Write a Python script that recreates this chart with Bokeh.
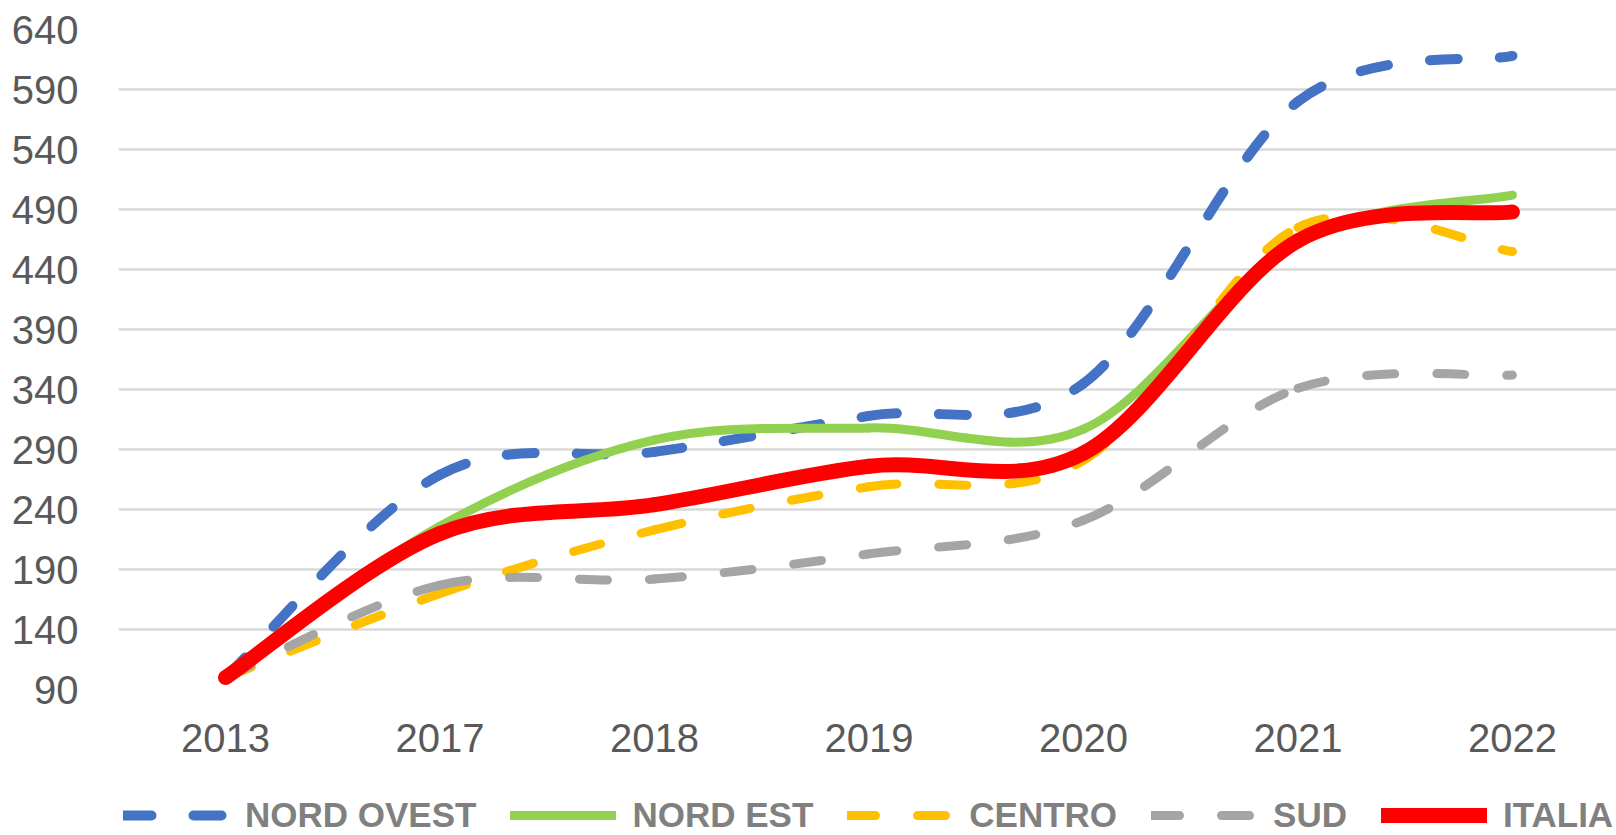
from bokeh.plotting import figure
from bokeh.layouts import column
from bokeh.models import ColumnDataSource, FixedTicker, Legend, LegendItem, Range1d
from bokeh.embed import file_html
from bokeh.resources import INLINE

years = ["2013", "2017", "2018", "2019", "2020", "2021", "2022"]
nord_ovest = [100, 269, 288, 318, 345, 580, 618]
nord_est = [100, 226, 298, 308, 307, 464, 502]
centro = [100, 170, 223, 259, 281, 475, 455]
sud = [100, 177, 182, 203, 231, 341, 352]
italia = [100, 220, 244, 276, 287, 464, 488]
y_ticks = [90, 140, 190, 240, 290, 340, 390, 440, 490, 540, 590, 640]

series = [
    ("NORD OVEST", nord_ovest, "#4472C4", 10, "28 42"),
    ("NORD EST", nord_est, "#92D050", 9, "solid"),
    ("CENTRO", centro, "#FFC000", 9, "28 42"),
    ("SUD", sud, "#A5A5A5", 9, "28 42"),
    ("ITALIA", italia, "#FF0000", 15, "solid"),
]


def smooth_segments(vals):
    """Cubic Bezier segments through the data points (Excel-style smoothing)."""
    n = len(vals)
    xs = list(range(n))
    d = dict(x0=[], y0=[], x1=[], y1=[], cx0=[], cy0=[], cx1=[], cy1=[])
    for i in range(n - 1):
        a = i - 1 if i > 0 else i
        b = i + 2 if i + 2 < n else i + 1
        d["x0"].append(xs[i]); d["y0"].append(vals[i])
        d["x1"].append(xs[i + 1]); d["y1"].append(vals[i + 1])
        d["cx0"].append(xs[i] + (xs[i + 1] - xs[a]) / 6)
        d["cy0"].append(vals[i] + (vals[i + 1] - vals[a]) / 6)
        d["cx1"].append(xs[i + 1] - (xs[b] - xs[i]) / 6)
        d["cy1"].append(vals[i + 1] - (vals[b] - vals[i]) / 6)
    return ColumnDataSource(d)


p = figure(width=1616, height=770, output_backend="svg", toolbar_location=None,
           x_range=Range1d(-0.499, 6.485), y_range=Range1d(90, 640),
           min_border_left=118, min_border_right=0, min_border_top=29,
           min_border_bottom=81)
p.outline_line_color = None
p.background_fill_color = "white"
p.border_fill_color = "white"

p.xgrid.grid_line_color = None
p.ygrid.grid_line_color = "#D9D9D9"
p.ygrid.grid_line_width = 2.5

p.xaxis.ticker = FixedTicker(ticks=list(range(len(years))))
p.xaxis.major_label_overrides = {i: y for i, y in enumerate(years)}
p.yaxis.ticker = FixedTicker(ticks=y_ticks)
p.ygrid.ticker = FixedTicker(ticks=y_ticks)

for ax in (p.xaxis[0], p.yaxis[0]):
    ax.axis_line_color = None
    ax.major_tick_line_color = None
    ax.minor_tick_line_color = None
    ax.major_tick_out = 0
    ax.major_tick_in = 0
    ax.major_label_text_font = "Liberation Sans"
    ax.major_label_text_font_size = "40px"
    ax.major_label_text_color = "#595959"
p.xaxis.major_label_standoff = 34
p.yaxis.major_label_standoff = 40

# legend strip below the chart (same series, data lies outside its view)
p2 = figure(width=1616, height=65, output_backend="svg", toolbar_location=None,
            x_range=Range1d(0, 1), y_range=Range1d(0, 1),
            min_border_left=118, min_border_right=0, min_border_top=0,
            min_border_bottom=0, x_axis_location=None, y_axis_location=None)
p2.grid.visible = False
p2.outline_line_color = None
p2.background_fill_color = "white"
p2.border_fill_color = "white"

items = []
for name, vals, color, lw, dash in series:
    src = smooth_segments(vals)
    style = dict(x0="x0", y0="y0", x1="x1", y1="y1", cx0="cx0", cy0="cy0",
                 cx1="cx1", cy1="cy1", source=src, line_color=color,
                 line_width=lw, line_dash=dash, line_cap="round")
    p.bezier(**style)
    key = p2.bezier(**style)
    items.append(LegendItem(label=name, renderers=[key]))

legend = Legend(items=items, orientation="horizontal", location=(5, 0),
                label_text_font="Liberation Sans", label_text_font_style="bold",
                label_text_font_size="35px", label_text_color="#808080",
                glyph_width=106, glyph_height=20, label_standoff=16, spacing=34,
                border_line_color=None, background_fill_alpha=0,
                padding=0, margin=0)
p2.add_layout(legend, "center")

layout = column(p, p2, spacing=0)
open("out.html", "w").write(file_html(layout, INLINE))
